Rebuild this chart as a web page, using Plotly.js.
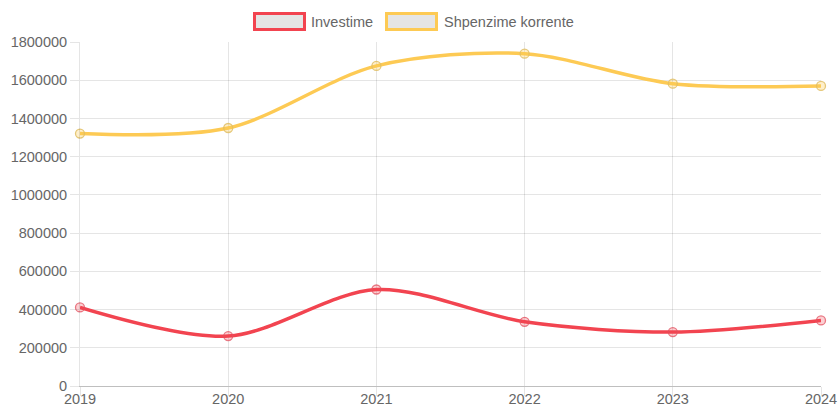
<!DOCTYPE html>
<html>
<head>
<meta charset="utf-8">
<script src="https://cdn.plot.ly/plotly-3.0.1.min.js"></script>
<style>
html,body{margin:0;padding:0;background:#fff;}
#chart{width:840px;height:410px;}
</style>
</head>
<body>
<div id="chart"></div>
<script>
const years = [2019, 2020, 2021, 2022, 2023, 2024];
const investime = [411000, 261000, 505000, 336000, 282000, 343000];
const shpenzime = [1321000, 1350000, 1675000, 1739000, 1582000, 1570000];
const seriesNames = ['Investime', 'Shpenzime korrente'];
const yTicks = [0, 200000, 400000, 600000, 800000, 1000000, 1200000, 1400000, 1600000, 1800000];

const RED = 'rgb(242,68,80)';
const YEL = 'rgb(253,202,84)';
const FONT = 'Liberation Sans, Arial, Helvetica, sans-serif';

function lineTrace(y, name, color, fill, ring) {
  return {
    x: years, y: y, name: name, type: 'scatter', mode: 'lines+markers',
    line: {color: color, width: 3.5, shape: 'spline', smoothing: 0.9},
    marker: {size: 9, color: fill, line: {color: ring, width: 1.3}},
    showlegend: false, cliponaxis: false
  };
}

const data = [
  lineTrace(investime, seriesNames[0], RED, 'rgba(242,68,80,0.25)', 'rgba(225,80,95,0.75)'),
  lineTrace(shpenzime, seriesNames[1], YEL, 'rgba(253,202,84,0.3)', 'rgba(225,190,100,0.85)'),
  // invisible trace to carry the tick-mark overlay axis
  {x: years, y: investime, xaxis: 'x2', type: 'scatter', mode: 'none', showlegend: false, hoverinfo: 'skip'}
];

// legend drawn as boxes + labels (pixel -> paper)
const L = 80, W = 741, T = 42, B = 386;
const H = B - T;
const px = v => (v - L) / W;
const py = v => (B - v) / H;

const xr = [years[0], years[years.length - 1]];

const layout = {
  width: 840, height: 410,
  margin: {l: L, r: 840 - L - W, t: T, b: 410 - B, pad: 0},
  paper_bgcolor: '#fff', plot_bgcolor: '#fff',
  font: {family: FONT, size: 14.5, color: '#666'},
  showlegend: false,
  xaxis: {
    range: xr,
    tickvals: years, ticktext: years.map(String),
    showgrid: true, gridcolor: 'rgba(0,0,0,0.1)', gridwidth: 1,
    zeroline: false,
    showline: true, linecolor: 'rgba(0,0,0,0.25)', linewidth: 1,
    ticks: '',
    tickfont: {family: FONT, size: 14.5, color: '#666'},
    fixedrange: true
  },
  xaxis2: {
    range: xr, overlaying: 'x', anchor: 'y', side: 'bottom',
    tickvals: years, showticklabels: false,
    showgrid: false, zeroline: false, showline: false,
    ticks: 'outside', ticklen: 9, tickcolor: 'rgba(0,0,0,0.1)',
    fixedrange: true
  },
  yaxis: {
    range: [0, 1800000],
    tickvals: yTicks, ticktext: yTicks.map(String),
    showgrid: true, gridcolor: 'rgba(0,0,0,0.1)', gridwidth: 1,
    zeroline: false,
    showline: true, linecolor: 'rgba(0,0,0,0.1)', linewidth: 1,
    ticks: 'outside', ticklen: 9, tickcolor: 'rgba(0,0,0,0.1)',
    tickfont: {family: FONT, size: 14.5, color: '#666'},
    fixedrange: true
  },
  shapes: [
    {type: 'rect', xref: 'paper', yref: 'paper',
     x0: px(254.5), x1: px(304.5), y0: py(29.5), y1: py(13.5),
     fillcolor: '#e5e5e5', line: {color: RED, width: 3}},
    {type: 'rect', xref: 'paper', yref: 'paper',
     x0: px(386.5), x1: px(436.5), y0: py(29.5), y1: py(13.5),
     fillcolor: '#e5e5e5', line: {color: YEL, width: 3}}
  ],
  annotations: [
    {xref: 'paper', yref: 'paper', x: px(309), y: py(22), xanchor: 'left', yanchor: 'middle',
     text: seriesNames[0], showarrow: false, font: {family: FONT, size: 14.5, color: '#666'}},
    {xref: 'paper', yref: 'paper', x: px(442), y: py(22), xanchor: 'left', yanchor: 'middle',
     text: seriesNames[1], showarrow: false, font: {family: FONT, size: 14.5, color: '#666'}}
  ]
};

Plotly.newPlot('chart', data, layout, {displayModeBar: false, staticPlot: true});
</script>
</body>
</html>
